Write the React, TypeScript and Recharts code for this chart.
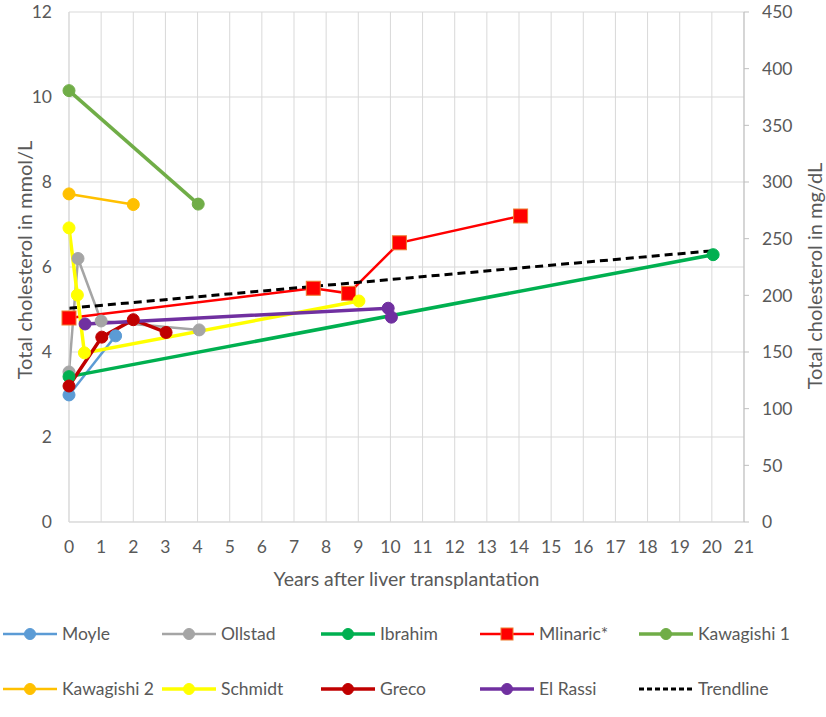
import React from 'react';
import { LineChart, Line, XAxis, YAxis, CartesianGrid, Legend } from 'recharts';

// values (years after LT, mmol/L)
const moyleYears = [0, 1.45];
const moyleChol = [2.99, 4.38];
const ollstadYears = [0, 0.28, 1, 4.05];
const ollstadChol = [3.53, 6.2, 4.73, 4.52];
const ibrahimYears = [0, 20.04];
const ibrahimChol = [3.42, 6.29];
const mlinaricYears = [0, 7.6, 8.7, 10.28, 14.05];
const mlinaricChol = [4.8, 5.5, 5.38, 6.57, 7.2];
const kawagishi1Years = [0, 4.02];
const kawagishi1Chol = [10.15, 7.48];
const kawagishi2Years = [0, 2];
const kawagishi2Chol = [7.72, 7.47];
const schmidtYears = [0, 0.26, 0.48, 9.02];
const schmidtChol = [6.92, 5.34, 3.98, 5.2];
const grecoYears = [0, 1.02, 2, 3.02];
const grecoChol = [3.2, 4.35, 4.76, 4.46];
const elRassiYears = [0.5, 9.93, 10.03];
const elRassiChol = [4.66, 5.03, 4.82];
const trendYears = [0, 20];
const trendChol = [5.03, 6.38];

const xTicks = [0, 1, 2, 3, 4, 5, 6, 7, 8, 9, 10, 11, 12, 13, 14, 15, 16, 17, 18, 19, 20, 21];
const mmolTicks = [0, 2, 4, 6, 8, 10, 12];
const mgdlTicks = [0, 50, 100, 150, 200, 250, 300, 350, 400, 450];

const toPoints = (xs: number[], ys: number[]) => xs.map((x, i) => ({ x, y: ys[i] }));

type Series = {
  name: string;
  data: { x: number; y: number }[];
  color: string;
  width: number;
  marker: 'circle' | 'square' | 'none';
  dash?: string;
};

const series: Series[] = [
  { name: 'Moyle', data: toPoints(moyleYears, moyleChol), color: '#5B9BD5', width: 2.5, marker: 'circle' },
  { name: 'Ollstad', data: toPoints(ollstadYears, ollstadChol), color: '#A5A5A5', width: 2.5, marker: 'circle' },
  { name: 'Ibrahim', data: toPoints(ibrahimYears, ibrahimChol), color: '#00B050', width: 3.5, marker: 'circle' },
  { name: 'Mlinaric*', data: toPoints(mlinaricYears, mlinaricChol), color: '#FF0000', width: 2.5, marker: 'square' },
  { name: 'Kawagishi 1', data: toPoints(kawagishi1Years, kawagishi1Chol), color: '#70AD47', width: 3.5, marker: 'circle' },
  { name: 'Kawagishi 2', data: toPoints(kawagishi2Years, kawagishi2Chol), color: '#FFC000', width: 2.5, marker: 'circle' },
  { name: 'Schmidt', data: toPoints(schmidtYears, schmidtChol), color: '#FFFF00', width: 3.5, marker: 'circle' },
  { name: 'Greco', data: toPoints(grecoYears, grecoChol), color: '#C00000', width: 3.5, marker: 'circle' },
  { name: 'El Rassi', data: toPoints(elRassiYears, elRassiChol), color: '#7030A0', width: 3.5, marker: 'circle' },
  { name: 'Trendline', data: toPoints(trendYears, trendChol), color: '#000000', width: 3, marker: 'none', dash: '8 5' },
];

const TEXT = '#595959';
const GRID = '#D9D9D9';

const squareDot = (props: any) => {
  const { cx, cy, index } = props;
  return (
    <rect key={`sq-${index}`} x={cx - 7} y={cy - 7} width={14} height={14}
      fill="#FF0000" stroke="#ED7D31" strokeWidth={1} />
  );
};

const LegendIcon = ({ s }: { s: Series }) => (
  <svg width={56} height={16} style={{ display: 'block' }}>
    <line x1={1} y1={8} x2={55} y2={8} stroke={s.color} strokeWidth={s.width} strokeDasharray={s.dash ? '5 3' : undefined} />
    {s.marker === 'circle' && <circle cx={28} cy={8} r={5.5} fill={s.color} stroke={s.color} />}
    {s.marker === 'square' && <rect x={22} y={2} width={12} height={12} fill="#FF0000" stroke="#ED7D31" />}
  </svg>
);

const renderLegend = (props: any) => {
  const names = series.map((s) => s.name);
  const items: any[] = (props.payload || [])
    .filter((it: any) => names.includes(it.value))
    .sort((a: any, b: any) => names.indexOf(a.value) - names.indexOf(b.value));
  return (
    <div style={{ height: 126, boxSizing: 'border-box', paddingTop: 15, paddingLeft: 2,
      display: 'grid', gridTemplateColumns: 'repeat(5, 159px)', gridAutoRows: '55px' }}>
      {items.map((it) => {
        const s = series.find((q) => q.name === it.value)!;
        return (
          <div key={it.value} style={{ display: 'flex', alignItems: 'center' }}>
            <LegendIcon s={s} />
            <span style={{ marginLeft: 4, color: TEXT, fontSize: 17.5 }}>{it.value}</span>
          </div>
        );
      })}
    </div>
  );
};

const LeftTitle = () => (
  <text x={24} y={260} transform="rotate(-90, 24, 260)" textAnchor="middle" dominantBaseline="central"
    fill={TEXT} fontSize={20}>
    Total cholesterol in mmol/L
  </text>
);

const RightTitle = () => (
  <text x={814} y={276} transform="rotate(-90, 814, 276)" textAnchor="middle" dominantBaseline="central"
    fill={TEXT} fontSize={20}>
    Total cholesterol in mg/dL
  </text>
);

export default function App() {
  return (
    <div style={{ position: 'absolute', left: 0, top: 0, width: 826, height: 717, background: '#fff', fontFamily: 'Lato, "Noto Sans", sans-serif' }}>
      <LineChart width={826} height={717} margin={{ top: 12, right: 0, bottom: 0, left: 0 }}>
        <CartesianGrid yAxisId="left" stroke={GRID} strokeWidth={1} />
        <XAxis type="number" dataKey="x" domain={[0, 21]} ticks={xTicks} interval={0}
          height={69} tickLine={false} axisLine={{ stroke: GRID }} tickMargin={13}
          tick={{ fill: TEXT, fontSize: 17.5 }}
          label={{ value: 'Years after liver transplantation', position: 'insideBottom', offset: 5, fill: TEXT, fontSize: 19.5 }} />
        <YAxis yAxisId="left" type="number" domain={[0, 12]} ticks={mmolTicks} width={69}
          tickLine={false} axisLine={{ stroke: GRID }} tickMargin={11}
          tick={{ fill: TEXT, fontSize: 17.5 }} label={<LeftTitle />} />
        <YAxis yAxisId="right" orientation="right" type="number" domain={[0, 450]} ticks={mgdlTicks} width={82}
          allowDataOverflow tickLine={{ stroke: '#BFBFBF' }} tickSize={5} axisLine={{ stroke: '#BFBFBF' }} tickMargin={13}
          tick={{ fill: TEXT, fontSize: 17.5 }} label={<RightTitle />} />
        {series.map((s) => (
          <Line key={s.name} yAxisId="left" data={s.data} dataKey="y" name={s.name} type="linear"
            stroke={s.color} strokeWidth={s.width} strokeDasharray={s.dash}
            dot={s.marker === 'square' ? squareDot : s.marker === 'circle'
              ? { r: 6, fill: s.color, stroke: s.color, strokeWidth: 1 } : false}
            activeDot={false} isAnimationActive={false} legendType="line" />
        ))}
        {/* mg/dL axis has no series of its own; an empty line keeps it drawn */}
        <Line yAxisId="right" data={[]} dataKey="y" name="mgdl" legendType="none"
          stroke="none" dot={false} activeDot={false} isAnimationActive={false} />
        <Legend verticalAlign="bottom" height={126} content={renderLegend}
          wrapperStyle={{ left: 0, width: 826 }} />
      </LineChart>
    </div>
  );
}
